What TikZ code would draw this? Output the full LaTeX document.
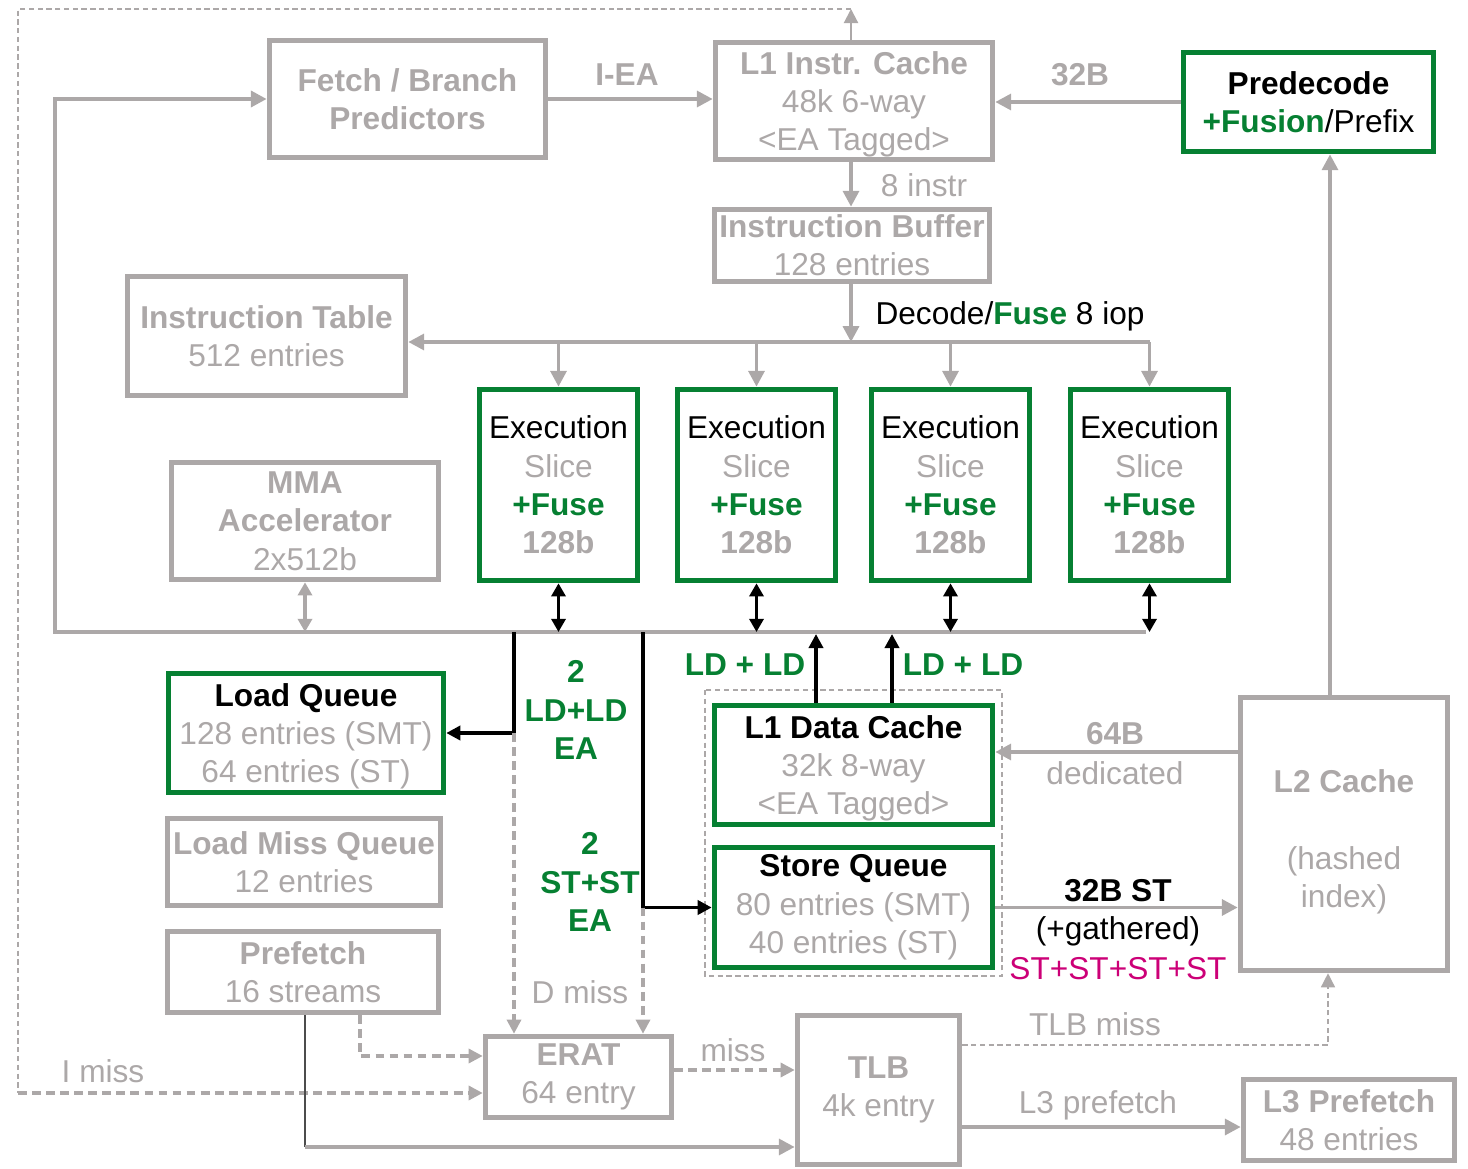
\documentclass[tikz,border=0pt]{standalone}
\usepackage{fontspec}
\setmainfont{Liberation Sans}
\usetikzlibrary{arrows.meta}

\definecolor{cgray}{RGB}{172,168,168}
\definecolor{cgreen}{RGB}{6,128,50}
\definecolor{cmag}{RGB}{204,0,119}
\newcommand{\graytxt}[1]{\textcolor{cgray}{#1}}
\newcommand{\greentxt}[1]{\textcolor{cgreen}{\textbf{#1}}}

\tikzset{
  unit/.style={draw=cgray, line width=3.2pt, inner sep=0pt, align=center, text=cgray},
  core/.style={unit, draw=cgreen, text=black},
  flow/.style={draw=cgray, line width=2.1pt, -{Triangle[length=9pt,width=9pt]}},
  duplex/.style={draw=black, line width=2pt, {Triangle[length=7.5pt,width=8pt]}-{Triangle[length=7.5pt,width=8pt]}},
  ldst/.style={draw=black, line width=2pt, -{Triangle[length=8pt,width=8pt]}},
  missflow/.style={draw=cgray, line width=1.8pt, dash pattern=on 5pt off 3pt, -{Triangle[length=8pt,width=8pt]}},
  missthin/.style={draw=cgray, line width=0.8pt, dash pattern=on 3pt off 2pt},
}

\begin{document}
\begin{tikzpicture}[x=0.02cm, y=-0.02cm, font=\fontsize{18}{21.8}\selectfont]
  % bounding box
  \useasboundingbox (0,0) rectangle (1468,1169);

  % Front end
  \node[unit, minimum width=5.52cm, minimum height=2.34cm] (fetch) at (407.5,99) {\textbf{Fetch / Branch}\\\textbf{Predictors}};
  \node[unit, minimum width=5.54cm, minimum height=2.34cm, text depth=0pt] (l1i) at (854,101) {\textbf{L1 Instr. Cache}\\48k 6-way\\<EA Tagged>};
  \node[core, minimum width=5.0cm, minimum height=1.98cm] (predec) at (1308.5,102) {\textbf{Predecode}\\\greentxt{+Fusion}/Prefix};
  \node[unit, minimum width=5.5cm, minimum height=1.44cm] (ibuf) at (852,245.5) {\textbf{Instruction Buffer}\\128 entries};
  \node[unit, minimum width=5.56cm, minimum height=2.38cm] (itab) at (266.5,336) {\textbf{Instruction Table}\\512 entries};
  \node[unit, minimum width=5.34cm, minimum height=2.34cm] (mma) at (305,521) {\textbf{MMA}\\\textbf{Accelerator}\\2x512b};

  % Execution slices
  \foreach \i/\x in {1/558.5, 2/756.5, 3/950.5, 4/1149.5}
    \node[core, minimum width=3.16cm, minimum height=3.82cm] (ex\i) at (\x,485) {Execution\\\graytxt{Slice}\\\greentxt{+Fuse}\\\graytxt{\textbf{128b}}};

  % Load/store side
  \node[core, minimum width=5.5cm, minimum height=2.38cm, text depth=0pt] (lq) at (306,733) {\textbf{Load Queue}\\\graytxt{128 entries (SMT)}\\\graytxt{64 entries (ST)}};
  \node[unit, minimum width=5.46cm, minimum height=1.74cm] (lmq) at (304,862) {\textbf{Load Miss Queue}\\12 entries};
  \node[unit, minimum width=5.42cm, minimum height=1.62cm] (pf) at (303,972) {\textbf{Prefetch}\\16 streams};
  \draw[missthin] (705,690) rectangle (1002,976);
  \node[core, minimum width=5.56cm, minimum height=2.38cm, text depth=0pt] (l1d) at (853.5,765) {\textbf{L1 Data Cache}\\\graytxt{32k 8-way}\\\graytxt{<EA Tagged>}};
  \node[core, minimum width=5.56cm, minimum height=2.4cm] (sq) at (853.5,907.5) {\textbf{Store Queue}\\\graytxt{80 entries (SMT)}\\\graytxt{40 entries (ST)}};
  \node[unit, minimum width=4.14cm, minimum height=5.46cm] (l2) at (1344,834) {~\\\textbf{L2 Cache}\\~\\(hashed\\index)};

  % Translation
  \node[unit, minimum width=3.72cm, minimum height=1.62cm] (erat) at (578.5,1077) {\textbf{ERAT}\\64 entry};
  \node[unit, minimum width=3.24cm, minimum height=2.98cm] (tlb) at (878.5,1090) {\textbf{TLB}\\4k entry};
  \node[unit, minimum width=4.22cm, minimum height=1.62cm] (l3pf) at (1349,1120) {\textbf{L3 Prefetch}\\48 entries};

  % Coordinates for the wiring
  \coordinate (busL) at (55,632);
  \coordinate (busR) at (1146,632);
  \coordinate (icol) at (851,9);
  \coordinate (icorner) at (18,9);
  \coordinate (imiss) at (18,1093);
  \coordinate (dec) at (851,342);
  \coordinate (ldtap) at (514,632);
  \coordinate (sttap) at (643,632);
  \coordinate (ld1) at (816,634);
  \coordinate (ld2) at (892,634);
  \coordinate (d64) at (1100,752);
  \coordinate (up2) at (1330,0);
  \coordinate (pfd) at (360,1056);
  \coordinate (pft) at (305,1147);
  \coordinate (em) at (700,1070);
  \coordinate (tm) at (1328,1045);
  \coordinate (l3y) at (1100,1127);

  % Instruction path
  \draw[flow] (fetch.east |- 0,99) -- (l1i.west |- 0,99);
  \draw[flow] (predec.west) -- (l1i.east |- predec.west);
  \draw[flow] (l2.north -| up2) -- (predec.south -| up2);
  \draw[flow] (l1i.south -| icol) -- (ibuf.north -| icol);
  \draw[flow] (ibuf.south -| icol) -- (dec);
  \draw[flow] (ex4.north |- dec) -- (itab.east |- dec);
  \foreach \i in {1,...,4}
    \draw[flow] (ex\i.north |- dec) -- (ex\i.north);

  % Result bus and loop back to fetch
  \draw[flow, line width=2.4pt] (busR) -- (busL) |- (fetch.west);
  \foreach \i in {1,...,4}
    \draw[duplex] (ex\i.south) -- (ex\i.south |- busL);
  \draw[duplex, draw=cgray] (mma.south) -- (mma.south |- busL);

  % Load/store wiring
  \draw[ldst] (ldtap) |- (lq.east);
  \draw[ldst] (sttap) |- (sq.west);
  \draw[ldst] (ld1 |- l1d.north) -- (ld1);
  \draw[ldst] (ld2 |- l1d.north) -- (ld2);
  \draw[flow] (l2.west |- d64) -- (l1d.east |- d64);
  \draw[flow] (sq.east) -- (l2.west |- sq.east);

  % Misses
  \draw[missflow] (ldtap |- lq.east) -- (ldtap |- erat.north);
  \draw[missflow] (sttap |- sq.west) -- (sttap |- erat.north);
  \draw[draw=cgray, line width=1.2pt, -{Triangle[length=8pt,width=8pt]}] (l1i.north -| icol) -- (icol);
  \draw[missthin] (icol) -- (icorner) -- (imiss);
  \draw[missflow] (imiss) -- (erat.west |- imiss);
  \draw[missflow] (pf.south -| pfd) |- (erat.west |- pfd);
  \draw[missflow] (erat.east |- em) -- (tlb.west |- em);
  \draw[missthin, -{Triangle[length=8pt,width=8pt]}] (tlb.east |- tm) -| (l2.south -| tm);
  \draw[draw=black!70, line width=0.8pt] (pf.south -| pft) -- (pft);
  \draw[flow] (pft) -- (tlb.west |- pft);
  \draw[flow] (tlb.east |- l3y) -- (l3pf.west |- l3y);

  % Labels
  \node[text=cgray, font=\fontsize{18}{21.8}\selectfont\bfseries] (ieal) at (627,75) {I-EA};
  \node[text=cgray, font=\fontsize{18}{21.8}\selectfont\bfseries] (b32l) at (1080,75) {32B};
  \node[text=cgray] (instrl) at (924,185) {8 instr};
  \node (decl) at (1010,316) {Decode/\greentxt{Fuse} 8 iop};
  \node[text=cgreen, font=\fontsize{18}{21.8}\selectfont\bfseries] (ldl1) at (745,665) {LD + LD};
  \node[text=cgreen, font=\fontsize{18}{21.8}\selectfont\bfseries] (ldl2) at (963,665) {LD + LD};
  \node[text=cgreen, align=center, font=\fontsize{18}{21.8}\selectfont\bfseries] (ldeal) at (576,710) {2\\LD+LD\\EA};
  \node[text=cgreen, align=center, font=\fontsize{18}{21.8}\selectfont\bfseries] (steal) at (590,882) {2\\ST+ST\\EA};
  \node[text=cgray] (dmissl) at (580,992) {D miss};
  \node[text=cgray, font=\fontsize{18}{21.8}\selectfont\bfseries] (b64l) at (1115,734) {64B};
  \node[text=cgray] (dedl) at (1115,773) {dedicated};
  \node[font=\fontsize{18}{21.8}\selectfont\bfseries] (stl) at (1118,891) {32B ST};
  \node (gathl) at (1118,931) {(+gathered)};
  \node[text=cmag] (st4l) at (1118,969) {ST+ST+ST+ST};
  \node[text=cgray] (missl) at (733,1050) {miss};
  \node[text=cgray] (tlbmissl) at (1095,1024) {TLB miss};
  \node[text=cgray] (l3l) at (1098,1105) {L3 prefetch};
  \node[text=cgray] (imissl) at (103,1071) {I miss};
\end{tikzpicture}
\end{document}
